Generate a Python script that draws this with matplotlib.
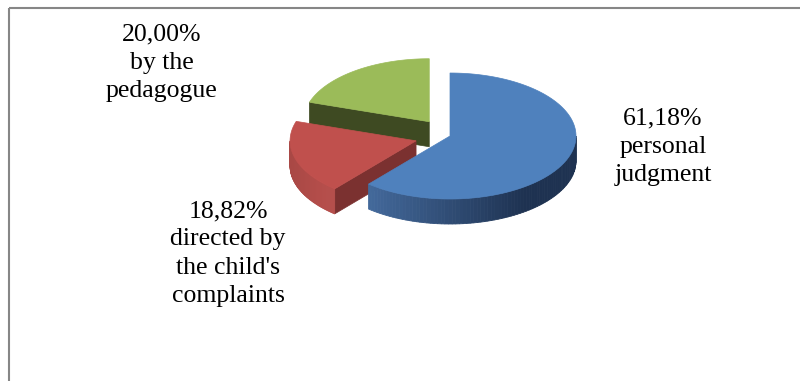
import numpy as np
import matplotlib
matplotlib.use("Agg")
import matplotlib.pyplot as plt
from matplotlib.patches import Polygon
from matplotlib.colors import to_rgb

# ---------------------------------------------------------------------------
# Data
# ---------------------------------------------------------------------------
categories = ["personal\njudgment", "directed by\nthe child's\ncomplaints", "by the\npedagogue"]
values = [61.18, 18.82, 20.00]
pct_labels = ["61,18%", "18,82%", "20,00%"]
explode = [0.0, 0.28, 0.28]

# ---------------------------------------------------------------------------
# Styling / layout (pixel units, y pointing down)
# ---------------------------------------------------------------------------
top_colors = ["#4f81bd", "#c0504d", "#9bbb59"]
wall_colors = [("#43699b", "#1e3251"), ("#a94845", "#b54e4b"), ("#4a5728", "#3e4a22")]
face_colors = ["#2a4468", "#7b3130", "#3e4a22"]
# (x centre, baseline of the last line)
label_pos = [(663, 181), (228, 302), (161.5, 97)]

CX, CY = 450, 136      # pie centre
RX, RY = 126, 63       # ellipse radii of the top face
DEPTH = 25             # thickness of the pie
FONT = "Liberation Serif"


def rim(theta, ox, oy, dy=0.0):
    t = np.radians(theta)
    return ox + RX * np.sin(t), oy - RY * np.cos(t) + dy


def lerp(c0, c1, f):
    a, b = np.array(to_rgb(c0)), np.array(to_rgb(c1))
    return tuple(a + (b - a) * f)


fig = plt.figure(figsize=(8.0, 3.81), dpi=100)
ax = fig.add_axes([0, 0, 1, 1])
ax.set_xlim(0, 800)
ax.set_ylim(381, 0)
ax.set_axis_off()

# chart frame (only top and left visible in the crop)
ax.plot([9, 800], [8, 8], color="#868686", lw=1.5, solid_capstyle="butt")
ax.plot([9, 9], [8, 381], color="#868686", lw=1.5, solid_capstyle="butt")

total = sum(values)
bounds = np.concatenate([[0], np.cumsum(values) / total * 360])

slices = []
for i, v in enumerate(values):
    a, b = bounds[i], bounds[i + 1]
    mid = np.radians((a + b) / 2)
    ox = CX + explode[i] * RX * np.sin(mid)
    oy = CY - explode[i] * RY * np.cos(mid)
    depth_key = -np.cos(mid)
    slices.append((depth_key, i, a, b, ox, oy))

# paint back-to-front
for _, i, a, b, ox, oy in sorted(slices):
    # visible radial faces
    for ang, vis in ((a, np.sin(np.radians(a)) < -1e-6), (b, np.sin(np.radians(b)) > 1e-6)):
        if vis:
            x1, y1 = rim(ang, ox, oy)
            poly = [(ox, oy), (x1, y1), (x1, y1 + DEPTH), (ox, oy + DEPTH)]
            ax.add_patch(Polygon(poly, closed=True, fc=face_colors[i], ec=face_colors[i], lw=0.5))

    # outer curved wall (front half only)
    w0, w1 = max(a, 90), min(b, 270)
    if w1 > w0:
        th = np.linspace(w0, w1, 80)
        xs = [rim(t, ox, oy)[0] for t in th]
        xmin, xmax = min(xs), max(xs)
        for t0, t1 in zip(th[:-1], th[1:]):
            x0, y0 = rim(t0, ox, oy)
            x1, y1 = rim(t1, ox, oy)
            f = ((x0 + x1) / 2 - xmin) / max(xmax - xmin, 1)
            col = lerp(wall_colors[i][0], wall_colors[i][1], min(1.0, f / 0.75))
            poly = [(x0, y0), (x1, y1), (x1, y1 + DEPTH), (x0, y0 + DEPTH)]
            ax.add_patch(Polygon(poly, closed=True, fc=col, ec=col, lw=0.6))

    # top face
    th = np.linspace(a, b, 120)
    pts = [(ox, oy)] + [rim(t, ox, oy) for t in th]
    ax.add_patch(Polygon(pts, closed=True, fc=top_colors[i], ec=top_colors[i], lw=0.5))

# data labels
for i in range(len(values)):
    x, y = label_pos[i]
    ax.text(x, y, pct_labels[i] + "\n" + categories[i], ha="center", va="baseline",
            multialignment="center", fontsize=18.5, family=FONT, color="black",
            linespacing=1.37)

fig.savefig("out.png", dpi=100, facecolor="white")
